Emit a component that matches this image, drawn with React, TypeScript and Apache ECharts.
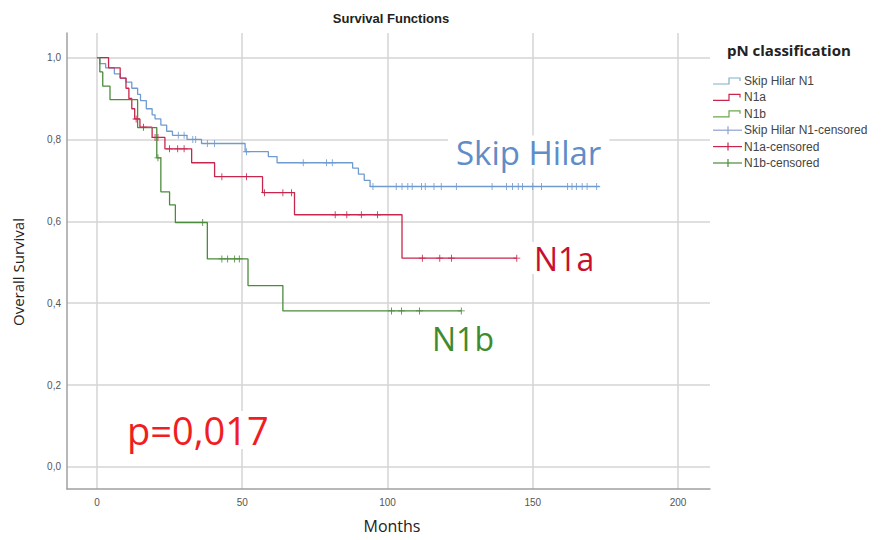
import React, { useEffect, useRef } from "react";
import * as echarts from "echarts";

const xTicks = [0, 50, 100, 150, 200];
const yTicks = [0, 0.2, 0.4, 0.6, 0.8, 1.0];

const skipTimes = [0, 1, 3, 6, 8, 10, 12, 14, 15, 17, 19, 20, 22, 24, 26, 31, 36, 51, 59, 62, 88, 90, 92, 94, 173];
const skipSurv = [1.0, 0.985, 0.975, 0.96, 0.95, 0.94, 0.925, 0.91, 0.895, 0.875, 0.86, 0.85, 0.835, 0.82, 0.81, 0.8, 0.79, 0.77, 0.758, 0.743, 0.73, 0.715, 0.7, 0.685, 0.685];
const skipCensored = [28, 30, 33, 34, 38, 40.5, 51.5, 71, 79, 81, 95, 103, 105, 107, 108.5, 111.7, 113, 116, 118.5, 123.7, 136, 141, 143, 145, 146.5, 150, 153, 162, 163.5, 165, 167, 168.7, 172];

const n1aTimes = [0, 4, 8, 10, 11, 12, 13, 14.8, 19, 23.4, 32.6, 40.5, 57, 68, 105, 144.5];
const n1aSurv = [1.0, 0.975, 0.95, 0.925, 0.9, 0.875, 0.85, 0.83, 0.805, 0.777, 0.743, 0.709, 0.67, 0.616, 0.51, 0.51];
const n1aCensored = [13.5, 16, 20, 21, 25, 27.8, 30, 43, 51.5, 57.7, 64, 67, 82, 86, 91, 96.6, 112, 118, 122, 144.5];

const n1bTimes = [0, 1, 2, 4.5, 14, 20.6, 22, 25, 27, 38, 52, 64, 125.4];
const n1bSurv = [1.0, 0.965, 0.93, 0.897, 0.829, 0.755, 0.672, 0.64, 0.597, 0.508, 0.443, 0.381, 0.381];
const n1bCensored = [21, 36.4, 43, 45, 47.4, 49, 101.4, 104.8, 111, 125.4];

const legendNames = ["Skip Hilar N1", "N1a", "N1b", "Skip Hilar N1-censored", "N1a-censored", "N1b-censored"];

const COLORS = {
  skip: "#6f9bd1",
  n1a: "#c8264c",
  n1b: "#4b8b3b",
};

function survAt(times: number[], surv: number[], t: number) {
  let s = surv[0];
  for (let i = 0; i < times.length; i++) {
    if (times[i] <= t) s = surv[i];
  }
  return s;
}

const PLUS = "path://M4.4,0H5.6V4.4H10V5.6H5.6V10H4.4V5.6H0V4.4H4.4Z";

function kmSeries(name: string, times: number[], surv: number[], color: string) {
  return {
    name,
    type: "line",
    step: "end",
    showSymbol: false,
    symbol: "none",
    data: times.map((t, i) => [t, surv[i]]),
    lineStyle: { color, width: 1.3 },
    itemStyle: { color },
    z: 3,
  };
}

function censSeries(name: string, cens: number[], times: number[], surv: number[], color: string) {
  return {
    name,
    type: "scatter",
    symbol: PLUS,
    symbolSize: 7,
    data: cens.map((t) => [t, survAt(times, surv, t)]),
    itemStyle: { color, opacity: 1 },
    z: 4,
  };
}

const FONT = "Liberation Sans";
const legendY0 = 81;
const legendStep = 16.4;
const legendIconColors = ["#7fb0c8", COLORS.n1a, "#6aa84f", "#8fa0d0", COLORS.n1a, "#4b8b3b"];

function legendGraphics() {
  const els: any[] = [
    {
      type: "text",
      x: 727,
      y: 50,
      style: {
        text: "pN classification",
        font: `bold 15px "Open Sans"`,
        fill: "#222",
        textVerticalAlign: "middle",
      },
    },
  ];
  legendNames.forEach((name, i) => {
    const y = legendY0 + i * legendStep;
    const c = legendIconColors[i];
    if (i < 3) {
      els.push({
        type: "polyline",
        shape: { points: [[713, y + 3], [729, y + 3], [729, y - 3], [740, y - 3], [740, y]] },
        style: { stroke: c, lineWidth: 1.2, fill: "none" },
      });
    } else {
      els.push({ type: "line", shape: { x1: 713, y1: y, x2: 742, y2: y }, style: { stroke: c, lineWidth: 1.2 } });
      els.push({ type: "line", shape: { x1: 728, y1: y - 4, x2: 728, y2: y + 4 }, style: { stroke: c, lineWidth: 1.2 } });
    }
    els.push({
      type: "text",
      x: 744,
      y,
      style: { text: name, font: `12px "${FONT}"`, fill: "#444", textVerticalAlign: "middle" },
    });
  });
  return els;
}

const option: any = {
  animation: false,
  backgroundColor: "#ffffff",
  grid: { left: 67, top: 33, right: 183, bottom: 51 },
  xAxis: {
    type: "value",
    min: -10.3,
    max: 211,
    axisLine: { show: true, onZero: false, lineStyle: { color: "#a0a0a0", width: 1.5 } },
    axisTick: { show: false, customValues: xTicks },
    axisLabel: { customValues: xTicks, color: "#555", fontSize: 10, fontFamily: FONT, margin: 8 },
    splitLine: { show: true, lineStyle: { color: "#d4d4d4", width: 1.5 } },
  },
  yAxis: {
    type: "value",
    min: -0.054,
    max: 1.06,
    axisLine: { show: true, onZero: false, lineStyle: { color: "#a0a0a0", width: 1.5 } },
    axisTick: { show: false, customValues: yTicks },
    axisLabel: {
      customValues: yTicks,
      color: "#555",
      fontSize: 10,
      fontFamily: FONT,
      margin: 6,
      formatter: (v: number) => v.toFixed(1).replace(".", ","),
    },
    splitLine: { show: true, lineStyle: { color: "#d4d4d4", width: 1.5 } },
  },
  series: [
    kmSeries("Skip Hilar N1", skipTimes, skipSurv, COLORS.skip),
    kmSeries("N1a", n1aTimes, n1aSurv, COLORS.n1a),
    kmSeries("N1b", n1bTimes, n1bSurv, COLORS.n1b),
    censSeries("Skip Hilar N1-censored", skipCensored, skipTimes, skipSurv, COLORS.skip),
    censSeries("N1a-censored", n1aCensored, n1aTimes, n1aSurv, COLORS.n1a),
    censSeries("N1b-censored", n1bCensored, n1bTimes, n1bSurv, COLORS.n1b),
  ],
  graphic: [
    {
      type: "text",
      x: 391,
      y: 18,
      style: { text: "Survival Functions", font: `bold 13px "${FONT}"`, fill: "#222", textAlign: "center", textVerticalAlign: "middle" },
    },
    {
      type: "text",
      x: 18,
      y: 272,
      rotation: Math.PI / 2,
      style: { text: "Overall Survival", font: `15px "Open Sans"`, fill: "#222", textAlign: "center", textVerticalAlign: "middle" },
    },
    {
      type: "text",
      x: 392,
      y: 526,
      style: { text: "Months", font: `16px "Open Sans"`, fill: "#222", textAlign: "center", textVerticalAlign: "middle" },
    },
    {
      type: "text",
      x: 448,
      y: 152,
      z: 10,
      style: {
        text: "Skip Hilar",
        font: `33px "Open Sans"`,
        fill: "#5f8dc8",
        textVerticalAlign: "middle",
        backgroundColor: "#ffffff",
        padding: [0, 8, 0, 8],
      },
    },
    {
      type: "text",
      x: 532,
      y: 258,
      z: 10,
      style: { text: "N1a", font: `32px "Open Sans"`, fill: "#c8102e", textVerticalAlign: "middle", backgroundColor: "#ffffff", padding: [0, 2] },
    },
    {
      type: "text",
      x: 432,
      y: 338,
      z: 10,
      style: { text: "N1b", font: `32px "Open Sans"`, fill: "#3f8a2e", textVerticalAlign: "middle" },
    },
    {
      type: "text",
      x: 127,
      y: 430,
      z: 10,
      style: { text: "p=0,017", font: `38px "Open Sans"`, fill: "#f01e23", textVerticalAlign: "middle", backgroundColor: "#ffffff" },
    },
    ...legendGraphics(),
  ],
};

export default function App() {
  const ref = useRef<HTMLDivElement>(null);
  useEffect(() => {
    document.body.style.margin = "0";
    const chart = echarts.init(ref.current!, undefined, { renderer: "svg" });
    chart.setOption(option);
    return () => chart.dispose();
  }, []);
  return <div ref={ref} style={{ width: 893, height: 540 }} />;
}
